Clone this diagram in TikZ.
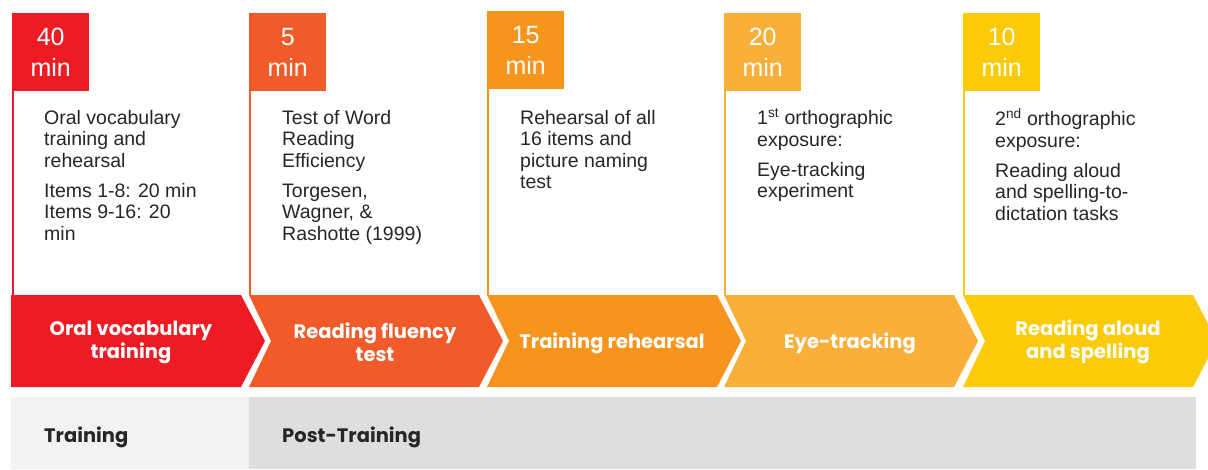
\documentclass[tikz,border=0pt]{standalone}
\usepackage{fontspec}
\setmainfont{Liberation Sans}
\newfontfamily\headfont{Poppins}
\usetikzlibrary{positioning}
\definecolor{stageA}{HTML}{ED1C24}
\definecolor{stageB}{HTML}{F15A29}
\definecolor{stageC}{HTML}{F7941D}
\definecolor{stageD}{HTML}{FAAF3B}
\definecolor{stageE}{HTML}{FBCB07}
\definecolor{barlight}{HTML}{F2F2F2}
\definecolor{bardark}{HTML}{DEDEDE}
\definecolor{textgray}{HTML}{262626}
\tikzset{
  timebox/.style={fill=#1, text=white, anchor=north west, minimum width=77pt,
    minimum height=78pt, inner sep=0pt, align=center,
    font=\fontsize{25}{31}\selectfont},
  notes/.style={anchor=north west, align=left, inner sep=0pt, text=textgray,
    font=\fontsize{19.5}{21.5}\selectfont},
  steplabel/.style={text=white, align=center, inner sep=0pt,
    font=\headfont\bfseries\fontsize{19.5}{23}\selectfont},
  phase/.style={anchor=west, inner sep=0pt, text=textgray,
    font=\headfont\bfseries\fontsize{19.5}{23}\selectfont},
  timeline/.style={draw=#1, line width=2pt}
}
\begin{document}
\begin{tikzpicture}[x=1pt,y=-1pt]
  \useasboundingbox (0,0) rectangle (1208,469);
  % chevrons
  \fill[stageA] (11,295) -- (241,295) -- (265,341) -- (241,387) -- (11,387) -- cycle;
  \foreach \L/\c in {249/stageB, 487/stageC, 724/stageD, 963/stageE}
    \fill[\c] (\L,295) -- ++(230,0) -- ++(24,46) -- ++(-24,46) -- ++(-230,0)
      -- ++(22,-46) -- cycle;
  % bottom bar
  \fill[barlight] (11,397) rectangle (249,469);
  \fill[bardark] (249,397) rectangle (1196,469);
  % time boxes
  \node[timebox=stageA] (time1) at (12,13) {40\\min};
  \node[timebox=stageB] (time2) at (249,13) {5\\min};
  \node[timebox=stageC] (time3) at (487,11) {15\\min};
  \node[timebox=stageD] (time4) at (724,13) {20\\min};
  \node[timebox=stageE] (time5) at (963,13) {10\\min};
  \coordinate (foot1) at (13,295);
  \coordinate (foot2) at (250,295);
  \coordinate (foot3) at (488,295);
  \coordinate (foot4) at (725,295);
  \coordinate (foot5) at (964,295);
  \draw[timeline=stageA] (time1.south west -| foot1) -- (foot1);
  \draw[timeline=stageB] (time2.south west -| foot2) -- (foot2);
  \draw[timeline=stageC] (time3.south west -| foot3) -- (foot3);
  \draw[timeline=stageD] (time4.south west -| foot4) -- (foot4);
  \draw[timeline=stageE] (time5.south west -| foot5) -- (foot5);
  % descriptions
  \node[notes] (desc1) at (44,110) {Oral vocabulary\\training and\\rehearsal\\[8.5pt]
    Items 1-8: 20 min\\Items 9-16: 20\\min};
  \node[notes] (desc2) at (282,110) {Test of Word\\Reading\\Efficiency\\[8.5pt]
    Torgesen,\\Wagner, \&\\Rashotte (1999)};
  \node[notes] (desc3) at (520,110) {Rehearsal of all\\16 items and\\picture naming\\test};
  \node[notes] (desc4) at (757,108) {1\textsuperscript{st} orthographic\\exposure:\\[8.5pt]
    Eye-tracking\\experiment};
  \node[notes] (desc5) at (995,108) {2\textsuperscript{nd} orthographic\\exposure:\\[8.5pt]
    Reading aloud\\and spelling-to-\\dictation tasks};
  % step labels
  \node[steplabel] (step1) at (131,342) {Oral vocabulary\\training};
  \node[steplabel] (step2) at (375,342) {Reading fluency\\test};
  \node[steplabel] (step3) at (612,343) {Training rehearsal};
  \node[steplabel] (step4) at (850,343) {Eye-tracking};
  \node[steplabel] (step5) at (1088,342) {Reading aloud\\and spelling};
  % phases
  \node[phase] (train) at (44,437) {Training};
  \node[phase] (post) at (282,437) {Post-Training};
\end{tikzpicture}
\end{document}
